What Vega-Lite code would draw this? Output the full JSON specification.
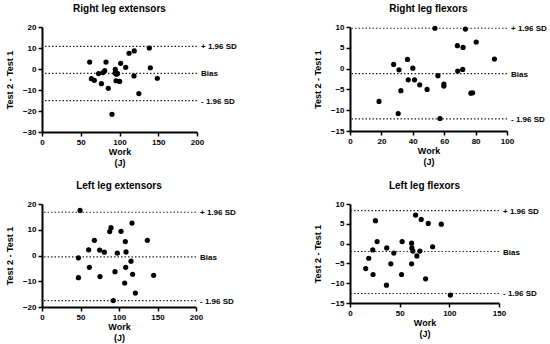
{
  "$schema": "https://vega.github.io/schema/vega-lite/v6.json",
  "padding": {"left": 5, "top": 4, "right": 5, "bottom": 3},
  "background": "white",
  "config": {
    "view": {"stroke": null},
    "font": "Liberation Sans",
    "axis": {"grid": false, "tickCount": 20, "labelOverlap": false, "labelFlush": false, "labelBound": false, "domainColor": "black", "domainWidth": 2, "tickColor": "black", "tickWidth": 1.5, "tickSize": 4, "labelFont": "Liberation Sans", "labelFontWeight": "bold", "labelFontSize": 8, "labelColor": "black", "titleFont": "Liberation Sans", "titleFontWeight": "bold", "titleFontSize": 9, "titleColor": "black"},
    "axisX": {"titleLineHeight": 11, "titlePadding": 1, "labelPadding": 2},
    "axisY": {"titlePadding": 8, "labelPadding": 2},
    "title": {"font": "Liberation Sans", "fontWeight": "bold", "fontSize": 10, "color": "black", "anchor": "middle", "offset": 9}
  },
  "datasets": {
    "re": [
      {"work": 61.5, "diff": 3.3}, {"work": 63.7, "diff": -4.6}, {"work": 67.5, "diff": -5.4}, {"work": 73, "diff": -2.2},
      {"work": 76.6, "diff": -7.0}, {"work": 78.7, "diff": -1.7}, {"work": 80.9, "diff": -0.8}, {"work": 82.6, "diff": 3.3},
      {"work": 85.6, "diff": -9.2}, {"work": 90.3, "diff": -21.6}, {"work": 94.6, "diff": -0.2}, {"work": 94.2, "diff": -1.9},
      {"work": 96, "diff": -2.5}, {"work": 97.6, "diff": -2.2}, {"work": 95.5, "diff": -5.6}, {"work": 100.2, "diff": -5.9},
      {"work": 101.5, "diff": 2.7}, {"work": 108, "diff": 0.8}, {"work": 112.3, "diff": 7.5}, {"work": 119, "diff": 8.6},
      {"work": 118.7, "diff": -3.3}, {"work": 125, "diff": -11.7}, {"work": 138.5, "diff": 10.0}, {"work": 139.8, "diff": 0.6},
      {"work": 148.8, "diff": -4.4}
    ],
    "re_lines": [{"diff": 10.8, "label": "+ 1.96 SD"}, {"diff": -2.1, "label": "Bias"}, {"diff": -15.1, "label": "- 1.96 SD"}],
    "rf": [
      {"work": 18.5, "diff": -7.9}, {"work": 27.8, "diff": 1.0}, {"work": 30.7, "diff": -10.8}, {"work": 31.2, "diff": -0.3},
      {"work": 32.4, "diff": -5.3}, {"work": 36.6, "diff": 2.2}, {"work": 37.1, "diff": -2.7}, {"work": 40, "diff": 0.1},
      {"work": 41.1, "diff": -2.7}, {"work": 44.4, "diff": -3.9}, {"work": 49.1, "diff": -5.0}, {"work": 54.1, "diff": 9.7},
      {"work": 56, "diff": -1.7}, {"work": 57.3, "diff": -12.0}, {"work": 59.8, "diff": -3.7}, {"work": 59.8, "diff": -4.2},
      {"work": 68.4, "diff": 5.5}, {"work": 68.6, "diff": -0.6}, {"work": 71.8, "diff": -0.2}, {"work": 72, "diff": 5.1},
      {"work": 73.5, "diff": 9.5}, {"work": 77, "diff": -5.9}, {"work": 78.1, "diff": -5.8}, {"work": 80.4, "diff": 6.4},
      {"work": 92, "diff": 2.3}
    ],
    "rf_lines": [{"diff": 9.7, "label": "+ 1.96 SD"}, {"diff": -1.2, "label": "Bias"}, {"diff": -12.1, "label": "- 1.96 SD"}],
    "le": [
      {"work": 49.4, "diff": 17.5}, {"work": 47.3, "diff": -0.9}, {"work": 47.3, "diff": -8.6}, {"work": 60.6, "diff": 2.2},
      {"work": 61.5, "diff": -4.6}, {"work": 68, "diff": 5.9}, {"work": 74.9, "diff": 2.1}, {"work": 75.3, "diff": -8.2},
      {"work": 80.9, "diff": 1.3}, {"work": 87.9, "diff": 9.3}, {"work": 89.6, "diff": 10.8}, {"work": 92.6, "diff": -17.5},
      {"work": 94.8, "diff": -6.3}, {"work": 97.8, "diff": 0.9}, {"work": 102.6, "diff": 9.4}, {"work": 108.2, "diff": 5.4},
      {"work": 109.1, "diff": 1.4}, {"work": 108.7, "diff": -4.6}, {"work": 107.4, "diff": -10.7}, {"work": 115.6, "diff": -2.2},
      {"work": 116.9, "diff": 12.6}, {"work": 117.7, "diff": -7.3}, {"work": 121.2, "diff": -14.6}, {"work": 136.8, "diff": 5.9},
      {"work": 145, "diff": -7.7}
    ],
    "le_lines": [{"diff": 16.8, "label": "+ 1.96 SD"}, {"diff": -0.5, "label": "Bias"}, {"diff": -17.5, "label": "- 1.96 SD"}],
    "lf": [
      {"work": 15.8, "diff": -6.3}, {"work": 18.9, "diff": -3.7}, {"work": 23.2, "diff": -7.8}, {"work": 22.9, "diff": -1.6},
      {"work": 25.6, "diff": 5.8}, {"work": 27.3, "diff": 0.5}, {"work": 36.7, "diff": -10.5}, {"work": 37, "diff": -1.1},
      {"work": 41.1, "diff": -5.1}, {"work": 44.1, "diff": -2.4}, {"work": 51.9, "diff": -7.8}, {"work": 52.5, "diff": 0.5},
      {"work": 62, "diff": 0.1}, {"work": 62.3, "diff": -1.1}, {"work": 62, "diff": -5.1}, {"work": 63.3, "diff": -1.9},
      {"work": 66, "diff": 7.2}, {"work": 67.3, "diff": -3.1}, {"work": 70.4, "diff": -1.9}, {"work": 71.7, "diff": 6.1},
      {"work": 76.1, "diff": -8.9}, {"work": 78.8, "diff": 5.1}, {"work": 83.2, "diff": -0.8}, {"work": 91.9, "diff": 4.9},
      {"work": 101, "diff": -13.0}
    ],
    "lf_lines": [{"diff": 8.35, "label": "+ 1.96 SD"}, {"diff": -2.0, "label": "Bias"}, {"diff": -12.6, "label": "- 1.96 SD"}]
  },
  "columns": 2,
  "bounds": "flush",
  "spacing": {"row": 72, "column": 153},
  "concat": [
    {
      "title": "Right leg extensors",
      "width": 155, "height": 105,
      "layer": [
        {"data": {"name": "re"}, "mark": {"type": "point", "filled": true, "shape": "circle", "size": 27, "color": "black", "opacity": 1},
         "encoding": {
           "x": {"field": "work", "type": "quantitative", "scale": {"domain": [0, 200], "nice": false}, "axis": {"values": [0, 50, 100, 150, 200], "tickCount": 20, "labelOverlap": false, "title": ["Work", "(J)"], "titleLineHeight": 11}},
           "y": {"field": "diff", "type": "quantitative", "scale": {"domain": [-30, 20], "nice": false}, "axis": {"values": [-30, -20, -10, 0, 10, 20], "tickCount": 20, "labelOverlap": false, "title": "Test 2 - Test 1"}}}},
        {"data": {"name": "re_lines"}, "mark": {"type": "rule", "strokeDash": [1.5, 2], "strokeWidth": 1.2, "color": "#222"},
         "encoding": {"y": {"field": "diff", "type": "quantitative"}}},
        {"data": {"name": "re_lines"}, "mark": {"type": "text", "align": "left", "baseline": "middle", "dx": 4, "dy": 1, "font": "Liberation Sans", "fontWeight": "bold", "fontSize": 8, "color": "black"},
         "encoding": {"x": {"datum": 200, "type": "quantitative"}, "y": {"field": "diff", "type": "quantitative"}, "text": {"field": "label"}}}
      ]
    },
    {
      "title": "Right leg flexors",
      "width": 157, "height": 104,
      "layer": [
        {"data": {"name": "rf"}, "mark": {"type": "point", "filled": true, "shape": "circle", "size": 27, "color": "black", "opacity": 1},
         "encoding": {
           "x": {"field": "work", "type": "quantitative", "scale": {"domain": [0, 100], "nice": false}, "axis": {"values": [0, 20, 40, 60, 80, 100], "tickCount": 20, "labelOverlap": false, "title": ["Work", "(J)"], "titleLineHeight": 11}},
           "y": {"field": "diff", "type": "quantitative", "scale": {"domain": [-15, 10], "nice": false}, "axis": {"values": [-15, -10, -5, 0, 5, 10], "tickCount": 20, "labelOverlap": false, "title": "Test 2 - Test 1"}}}},
        {"data": {"name": "rf_lines"}, "mark": {"type": "rule", "strokeDash": [1.5, 2], "strokeWidth": 1.2, "color": "#222"},
         "encoding": {"y": {"field": "diff", "type": "quantitative"}}},
        {"data": {"name": "rf_lines"}, "mark": {"type": "text", "align": "left", "baseline": "middle", "dx": 4, "dy": 1, "font": "Liberation Sans", "fontWeight": "bold", "fontSize": 8, "color": "black"},
         "encoding": {"x": {"datum": 100, "type": "quantitative"}, "y": {"field": "diff", "type": "quantitative"}, "text": {"field": "label"}}}
      ]
    },
    {
      "title": "Left leg extensors",
      "width": 154, "height": 103,
      "layer": [
        {"data": {"name": "le"}, "mark": {"type": "point", "filled": true, "shape": "circle", "size": 27, "color": "black", "opacity": 1},
         "encoding": {
           "x": {"field": "work", "type": "quantitative", "scale": {"domain": [0, 200], "nice": false}, "axis": {"values": [0, 50, 100, 150, 200], "tickCount": 20, "labelOverlap": false, "title": ["Work", "(J)"], "titleLineHeight": 11}},
           "y": {"field": "diff", "type": "quantitative", "scale": {"domain": [-20, 20], "nice": false}, "axis": {"values": [-20, -10, 0, 10, 20], "tickCount": 20, "labelOverlap": false, "title": "Test 2 - Test 1"}}}},
        {"data": {"name": "le_lines"}, "mark": {"type": "rule", "strokeDash": [1.5, 2], "strokeWidth": 1.2, "color": "#222"},
         "encoding": {"y": {"field": "diff", "type": "quantitative"}}},
        {"data": {"name": "le_lines"}, "mark": {"type": "text", "align": "left", "baseline": "middle", "dx": 4, "dy": 1, "font": "Liberation Sans", "fontWeight": "bold", "fontSize": 8, "color": "black"},
         "encoding": {"x": {"datum": 200, "type": "quantitative"}, "y": {"field": "diff", "type": "quantitative"}, "text": {"field": "label"}}}
      ]
    },
    {
      "title": "Left leg flexors",
      "width": 149, "height": 99,
      "layer": [
        {"data": {"name": "lf"}, "mark": {"type": "point", "filled": true, "shape": "circle", "size": 27, "color": "black", "opacity": 1},
         "encoding": {
           "x": {"field": "work", "type": "quantitative", "scale": {"domain": [0, 150], "nice": false}, "axis": {"values": [0, 50, 100, 150], "tickCount": 20, "labelOverlap": false, "title": ["Work", "(J)"], "titleLineHeight": 11}},
           "y": {"field": "diff", "type": "quantitative", "scale": {"domain": [-15, 10], "nice": false}, "axis": {"values": [-15, -10, -5, 0, 5, 10], "tickCount": 20, "labelOverlap": false, "title": "Test 2 - Test 1"}}}},
        {"data": {"name": "lf_lines"}, "mark": {"type": "rule", "strokeDash": [1.5, 2], "strokeWidth": 1.2, "color": "#222"},
         "encoding": {"y": {"field": "diff", "type": "quantitative"}}},
        {"data": {"name": "lf_lines"}, "mark": {"type": "text", "align": "left", "baseline": "middle", "dx": 4, "dy": 1, "font": "Liberation Sans", "fontWeight": "bold", "fontSize": 8, "color": "black"},
         "encoding": {"x": {"datum": 150, "type": "quantitative"}, "y": {"field": "diff", "type": "quantitative"}, "text": {"field": "label"}}}
      ]
    }
  ]
}
